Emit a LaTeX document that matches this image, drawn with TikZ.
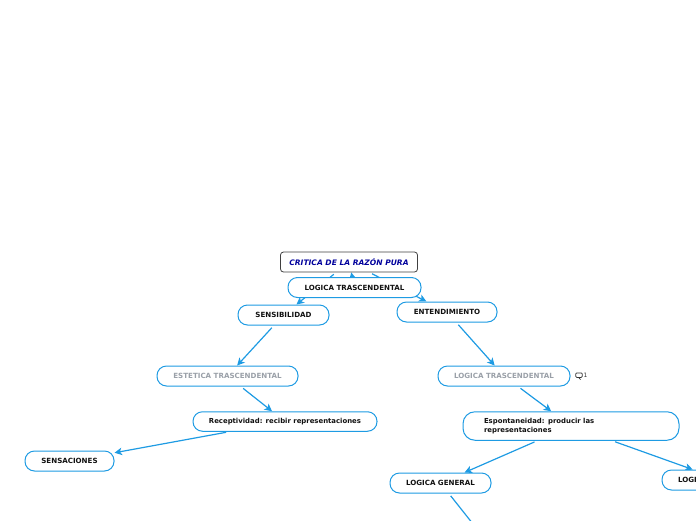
\documentclass[tikz,border=0pt]{standalone}
\usepackage{fontspec}
\setmainfont{DejaVu Sans}
\usetikzlibrary{arrows.meta}
\pgfdeclarelayer{edges}
\pgfsetlayers{edges,main}
\definecolor{linkblue}{HTML}{1E9BE3}
\definecolor{rootblue}{HTML}{00009C}
\definecolor{greytext}{HTML}{9AA0A8}
\definecolor{darktext}{HTML}{111111}
\tikzset{
  x=1pt,y=-1pt,
  basenode/.style={draw=linkblue,fill=white,line width=1pt,rounded corners=9.5pt,inner sep=0pt,
    font=\bfseries\fontsize{7.1}{9.4}\selectfont,text=darktext,anchor=center},
  rootnode/.style={basenode,draw=black!75,line width=0.8pt,rounded corners=3pt,text=rootblue,font=\bfseries\itshape\fontsize{7.55}{10}\selectfont},
  greynode/.style={basenode,text=greytext},
  mixednode/.style={basenode,font=\bfseries\fontsize{6.9}{9.4}\selectfont},
  edge/.style={draw=linkblue,line width=1.2pt,shorten <=3pt,-{Stealth[length=7.5pt,width=7.5pt,inset=2pt]}},
}
\begin{document}
\begin{tikzpicture}
\useasboundingbox (0,0) rectangle (696,520);
\clip (0,0) rectangle (696,520);
\node[rootnode,minimum width=137pt,minimum height=20pt] (root) at (349,262) {CRITICA DE LA RAZÓN PURA};
\node[basenode,minimum width=91pt,minimum height=20pt] (sens) at (283.5,315) {SENSIBILIDAD};
\node[basenode,minimum width=100pt,minimum height=20pt] (ent) at (447,312) {ENTENDIMIENTO};
\node[basenode,minimum width=133pt,minimum height=20pt] (logica) at (354.5,287.5) {LOGICA TRASCENDENTAL};
\node[greynode,minimum width=141pt,minimum height=20pt] (estet) at (227.5,376) {ESTETICA TRASCENDENTAL};
\node[mixednode,minimum width=184pt,minimum height=19.5pt] (recep) at (285,421.5) {Receptividad: recibir representaciones};
\node[basenode,minimum width=89pt,minimum height=20pt] (sensa) at (69.5,461) {SENSACIONES};
\node[greynode,minimum width=132pt,minimum height=20pt] (logtwo) at (504,376) {LOGICA TRASCENDENTAL};
\node[mixednode,rounded corners=12pt,minimum width=216pt,minimum height=28.5pt,align=left,text width=174pt] (espon) at (571,426) {Espontaneidad: producir las\\representaciones};
\node[basenode,minimum width=101pt,minimum height=20pt] (gener) at (440.5,483) {LOGICA GENERAL};
\node[basenode,minimum width=120pt,minimum height=20pt,align=left,text width=88pt] (logi) at (722,480) {LOGI};
\coordinate (below) at (500,558);
\begin{pgfonlayer}{edges}
\clip (0,0) rectangle (696,520);
\draw[edge] (logica) -- (root);
\draw[edge] (root) -- (sens);
\draw[edge] (root) -- (ent);
\draw[edge] (sens) -- (estet);
\draw[edge] (estet) -- (recep);
\draw[edge] (recep) -- (sensa);
\draw[edge] (ent) -- (logtwo);
\draw[edge] (logtwo) -- (espon);
\draw[edge] (espon) -- (gener);
\draw[edge] (espon) -- (logi);
\draw[edge] (gener) -- (below);
\end{pgfonlayer}
% comment marker
\node[draw=black!80,line width=0.7pt,rounded corners=1pt,minimum width=6.5pt,minimum height=4.5pt,inner sep=0pt] (bubble) at (579,375.2) {};
\draw[black!80,line width=0.7pt] (bubble.south) -- ++(1.5,1.8);
\node[font=\fontsize{6}{7}\selectfont,text=black!80,inner sep=0pt] (count) at (585.5,375.5) {1};
\end{tikzpicture}
\end{document}
